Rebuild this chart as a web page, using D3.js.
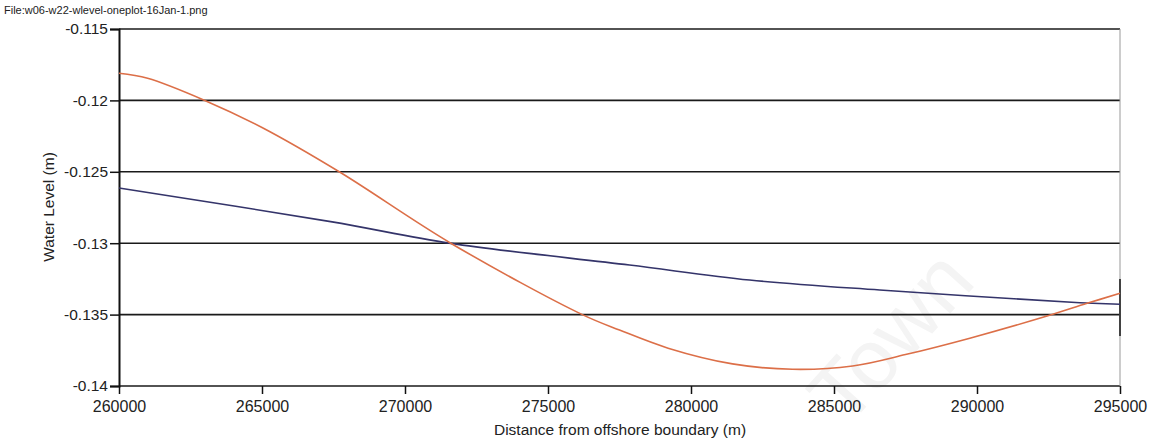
<!DOCTYPE html>
<html>
<head>
<meta charset="utf-8">
<script src="https://cdn.jsdelivr.net/npm/d3@7"></script>
<style>
  body { margin: 0; background: #fff; }
  svg { display: block; font-family: "Liberation Sans", Arial, Helvetica, sans-serif; }
</style>
</head>
<body>
<svg id="chart" width="1153" height="442"></svg>
<script>
const width = 1153;
const height = 442;
const margin = {top: 29, right: 33, bottom: 56, left: 119};

// x ticks and y ticks
const xTicks = [260000, 265000, 270000, 275000, 280000, 285000, 290000, 295000];
const yTicks = [-0.115, -0.12, -0.125, -0.13, -0.135, -0.14];

// orange series
const orangeX = [260000, 261000, 263000, 265000, 267700, 271600, 276200, 277500, 279200, 281450, 283550, 285650, 287500, 289750, 292450, 293850, 295000];
const orangeY = [-0.1181, -0.11845, -0.12, -0.1219, -0.125, -0.13, -0.135, -0.13608, -0.13735, -0.13845, -0.13883, -0.1386, -0.1378, -0.13665, -0.1351, -0.13421, -0.13351];

// blue series
const blueX = [260000, 267400, 271600, 277850, 282050, 286600, 293600, 295000];
const blueY = [-0.12613, -0.12849, -0.13001, -0.13153, -0.13258, -0.13328, -0.13417, -0.13428];

const svg = d3.select('#chart');

const x = d3.scaleLinear()
            .domain([260000, 295000])
            .range([margin.left, width - margin.right]);

const y = d3.scaleLinear()
            .domain([-0.14, -0.115])
            .range([height - margin.bottom, margin.top]);

// watermark
svg.append('text')
   .attr('transform', 'translate(912,356) rotate(-48)')
   .attr('text-anchor', 'middle')
   .attr('font-size', 84)
   .attr('fill', '#f4f4f4')
   .text('Town');

// file name
svg.append('text')
   .attr('x', 4)
   .attr('y', 14)
   .attr('font-size', 11)
   .attr('fill', '#222')
   .text('File:w06-w22-wlevel-oneplot-16Jan-1.png');

// gridlines
svg.append('g')
   .selectAll('line')
   .data(yTicks)
   .join('line')
   .attr('x1', margin.left)
   .attr('x2', width - margin.right)
   .attr('y1', function(d) { return y(d); })
   .attr('y2', function(d) { return y(d); })
   .attr('stroke', '#1a1a1a')
   .attr('stroke-width', 1.6);

// right border
svg.append('line')
   .attr('x1', x(295000)).attr('x2', x(295000))
   .attr('y1', margin.top).attr('y2', height - margin.bottom)
   .attr('stroke', '#999')
   .attr('stroke-width', 1);

svg.append('line')
   .attr('x1', x(295000)).attr('x2', x(295000))
   .attr('y1', y(-0.1325)).attr('y2', y(-0.1365))
   .attr('stroke', '#333')
   .attr('stroke-width', 1.8);

// y axis
const yAxis = svg.append('g')
   .attr('transform', 'translate(' + margin.left + ',0)')
   .call(d3.axisLeft(y)
           .tickValues(yTicks)
           .tickSize(9)
           .tickPadding(2)
           .tickFormat(function(d) { return String(+d.toFixed(3)); }));

yAxis.select('.domain').attr('stroke', '#111').attr('stroke-width', 2);
yAxis.selectAll('.tick line').attr('stroke', '#111').attr('stroke-width', 1.5);
yAxis.selectAll('.tick text')
     .attr('font-size', 15.5)
     .attr('fill', '#222')
     .attr('font-family', '"Liberation Sans", Arial, sans-serif');

// x axis
const xAxis = svg.append('g')
   .attr('transform', 'translate(0,' + (height - margin.bottom) + ')')
   .call(d3.axisBottom(x)
           .tickValues(xTicks)
           .tickSize(8)
           .tickPadding(7)
           .tickFormat(d3.format('d')));

xAxis.select('.domain').remove();
xAxis.selectAll('.tick line').attr('stroke', '#111').attr('stroke-width', 1.5);
xAxis.selectAll('.tick text')
     .attr('font-size', 16)
     .attr('fill', '#222')
     .attr('font-family', '"Liberation Sans", Arial, sans-serif');

// axis titles
svg.append('text')
   .attr('x', 620)
   .attr('y', 435)
   .attr('text-anchor', 'middle')
   .attr('font-size', 15.5)
   .attr('fill', '#222')
   .text('Distance from offshore boundary (m)');

svg.append('text')
   .attr('transform', 'translate(54,207) rotate(-90)')
   .attr('text-anchor', 'middle')
   .attr('font-size', 15.5)
   .attr('fill', '#222')
   .text('Water Level (m)');

// lines
const line = d3.line()
               .x(function(d) { return x(d[0]); })
               .y(function(d) { return y(d[1]); })
               .curve(d3.curveCatmullRom.alpha(0.5));

svg.append('path')
   .datum(d3.zip(blueX, blueY))
   .attr('fill', 'none')
   .attr('stroke', '#34346a')
   .attr('stroke-width', 1.6)
   .attr('d', line);

svg.append('path')
   .datum(d3.zip(orangeX, orangeY))
   .attr('fill', 'none')
   .attr('stroke', '#dc6f48')
   .attr('stroke-width', 1.6)
   .attr('d', line);
</script>
</body>
</html>
